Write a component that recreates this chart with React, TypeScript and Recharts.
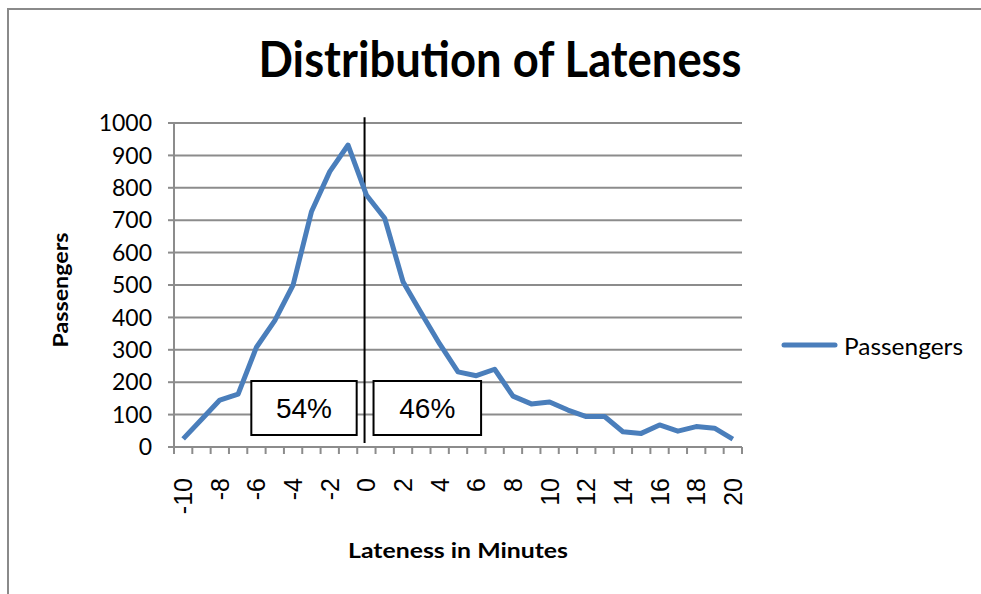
import React from "react";
import {
  LineChart,
  Line,
  XAxis,
  YAxis,
  CartesianGrid,
  ReferenceLine,
  ReferenceArea,
} from "recharts";

// minutes late (negative = early)
const minutes = [
  -10, -9, -8, -7, -6, -5, -4, -3, -2, -1, 0, 1, 2, 3, 4, 5, 6, 7, 8, 9, 10,
  11, 12, 13, 14, 15, 16, 17, 18, 19, 20,
];
const passengers = [
  25, 85, 145, 163, 308, 390, 500, 726, 850, 932, 778, 706, 510, 413, 318,
  232, 220, 240, 157, 133, 139, 114, 94, 94, 47, 42, 68, 49, 63, 58, 24,
];
const yTicks = [0, 100, 200, 300, 400, 500, 600, 700, 800, 900, 1000];
const shares = ["54%", "46%"];

const data = minutes.map((m, i) => ({ minute: m, passengers: passengers[i] }));

// tick marks sit between categories, labels on every 2nd category
const boundaryTicks = [...minutes.map((m) => m - 0.5), minutes[minutes.length - 1] + 0.5];
const labelTicks = minutes.filter((m) => m % 2 === 0);
const xTicks = [...boundaryTicks, ...labelTicks].sort((a, b) => a - b);

// annotation boxes (in data units)
const boxes = [
  { x1: -6.28, x2: -0.53, y1: 37, y2: 204, text: shares[0] },
  { x1: 0.39, x2: 6.26, y1: 37, y2: 204, text: shares[1] },
];
const splitAt = -0.1;

const GRID = "#8c8c8c";
const BLUE = "#4A7EBB";

function XTick(props: any) {
  const { x, y, payload } = props;
  const v = payload.value;
  if (!Number.isInteger(v)) {
    return <line x1={x} y1={y} x2={x} y2={y + 7} stroke={GRID} strokeWidth={2} />;
  }
  const tx = x + 9;
  const ty = y + 31;
  return (
    <text
      x={tx}
      y={ty}
      transform={`rotate(-90 ${tx} ${ty})`}
      textAnchor="end"
      fontFamily="Liberation Sans, Arial, sans-serif"
      fontSize={25}
      fill="#000"
    >
      {v}
    </text>
  );
}

export default function App() {
  return (
    <div
      style={{
        position: "absolute",
        left: 0,
        top: 0,
        width: 981,
        height: 594,
        background: "#fff",
        overflow: "hidden",
      }}
    >
      <div
        style={{
          position: "absolute",
          left: 7,
          top: 8,
          width: 1000,
          height: 620,
          border: "2px solid #8a8a8a",
          boxSizing: "border-box",
        }}
      />
      <div style={{ position: "absolute", left: 0, top: 0 }}>
        <LineChart
          width={981}
          height={594}
          data={data}
          margin={{ top: 123, right: 239, bottom: 87, left: 0 }}
        >
          <CartesianGrid vertical={false} stroke={GRID} strokeWidth={2} />
          <XAxis
            dataKey="minute"
            type="number"
            domain={[-10.5, 20.5]}
            ticks={xTicks}
            interval={0}
            height={60}
            tickSize={0}
            tickMargin={0}
            tickLine={false}
            axisLine={{ stroke: GRID, strokeWidth: 2 }}
            tick={<XTick />}
          />
          <YAxis
            width={174}
            domain={[0, 1000]}
            ticks={yTicks}
            interval={0}
            tickSize={6}
            tickMargin={16}
            tickLine={{ stroke: GRID, strokeWidth: 2 }}
            axisLine={{ stroke: GRID, strokeWidth: 2 }}
            tick={{ fill: "#000", fontSize: 23, fontFamily: "Lato, sans-serif" }}
          />
          {boxes.map((b) => (
            <ReferenceArea
              key={b.text}
              x1={b.x1}
              x2={b.x2}
              y1={b.y1}
              y2={b.y2}
              fill="#fff"
              fillOpacity={1}
              stroke="#000"
              strokeWidth={2}
              label={{
                value: b.text,
                position: "center",
                fill: "#000",
                fontSize: 28,
                fontFamily: "Liberation Sans, Arial, sans-serif",
              }}
            />
          ))}
          <ReferenceLine
            segment={[
              { x: splitAt, y: 12 },
              { x: splitAt, y: 1018 },
            ]}
            ifOverflow="visible"
            stroke="#000"
            strokeWidth={2}
          />
          <Line
            type="linear"
            dataKey="passengers"
            stroke={BLUE}
            strokeWidth={5}
            strokeLinejoin="round"
            dot={false}
            isAnimationActive={false}
          />
        </LineChart>
      </div>
      <svg
        width={981}
        height={594}
        style={{ position: "absolute", left: 0, top: 0, pointerEvents: "none" }}
      >
        <text
          x={500}
          y={77}
          textAnchor="middle"
          fontFamily="Lato, sans-serif"
          fontWeight="bold"
          fontSize={50}
          textLength={483}
          lengthAdjust="spacingAndGlyphs"
          fill="#000"
        >
          Distribution of Lateness
        </text>
        <text
          x={68}
          y={290}
          transform="rotate(-90 68 290)"
          textAnchor="middle"
          fontFamily="Lato, sans-serif"
          fontWeight="bold"
          fontSize={21}
          textLength={115}
          lengthAdjust="spacingAndGlyphs"
          fill="#000"
        >
          Passengers
        </text>
        <text
          x={458}
          y={558}
          textAnchor="middle"
          fontFamily="Lato, sans-serif"
          fontWeight="bold"
          fontSize={21}
          textLength={220}
          lengthAdjust="spacingAndGlyphs"
          fill="#000"
        >
          Lateness in Minutes
        </text>
        <line
          x1={784}
          y1={345}
          x2={835}
          y2={345}
          stroke={BLUE}
          strokeWidth={5}
          strokeLinecap="round"
        />
        <text
          x={844}
          y={355}
          fontFamily="Lato, sans-serif"
          fontSize={23}
          textLength={119}
          lengthAdjust="spacingAndGlyphs"
          fill="#000"
        >
          Passengers
        </text>
      </svg>
    </div>
  );
}
